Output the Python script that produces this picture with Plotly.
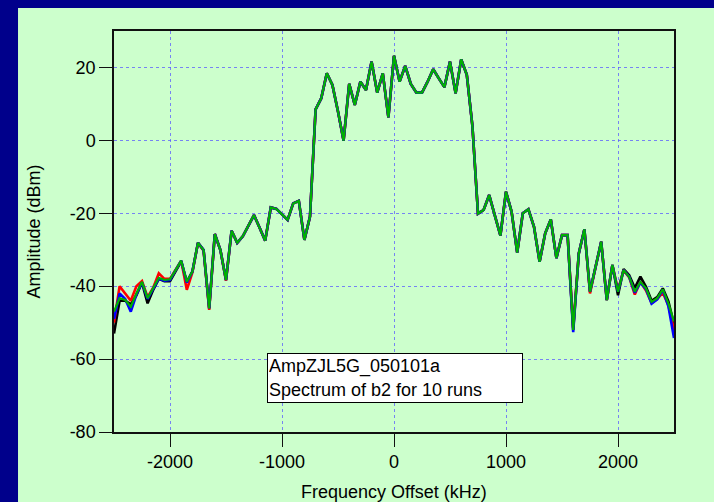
import plotly.graph_objects as go

# Frequency offsets (kHz), 50 kHz spacing
freq_khz = list(range(-2500, 2501, 50))

# Amplitudes (dBm), one list per visible run colour
run_green = [
    -47.0, -43.3, -43.8, -45.6, -42.0, -38.8, -43.3, -40.6, -37.7, -38.3,
    -38.1, -35.6, -33.0, -38.8, -36.0, -28.1, -30.1, -46.1, -25.7, -30.1,
    -38.3, -24.8, -28.1, -26.3, -23.4, -20.5, -24.0, -27.5, -18.4, -18.8,
    -20.3, -21.8, -17.3, -16.6, -27.3, -20.9, 8.5, 11.5, 18.4, 15.2,
    7.9, -0.1, 15.5, 9.7, 16.1, 13.8, 21.6, 13.1, 18.4, 6.3,
    23.2, 16.1, 20.4, 15.5, 13.1, 13.1, 16.1, 19.5, 17.0, 14.6,
    21.6, 12.9, 22.2, 18.0, 4.0, -20.1, -19.1, -15.0, -20.6, -26.1,
    -14.1, -19.6, -30.8, -20.0, -18.9, -23.7, -33.3, -25.5, -21.7, -32.3,
    -26.0, -26.0, -52.0, -31.0, -24.4, -41.5, -34.7, -27.8, -43.8, -34.2,
    -41.5, -35.6, -37.4, -41.5, -38.8, -40.6, -44.3, -43.3, -40.9, -44.7,
    -49.7,
]
run_black = [
    -53.0, -44.0, -44.0, -45.0, -42.5, -39.0, -44.7, -41.0, -38.0, -38.6,
    -38.6, -35.8, -33.2, -38.8, -36.0, -28.1, -30.1, -46.1, -25.7, -30.1,
    -38.3, -24.8, -28.1, -26.3, -23.4, -20.5, -24.0, -27.5, -18.4, -18.8,
    -20.3, -21.8, -17.3, -16.6, -27.3, -20.9, 8.5, 11.5, 18.4, 15.2,
    7.9, -0.1, 15.5, 9.7, 16.1, 13.8, 21.6, 13.1, 18.4, 6.3,
    23.2, 16.1, 20.4, 15.5, 13.1, 13.1, 16.1, 19.5, 17.0, 14.6,
    21.6, 12.9, 22.2, 18.0, 4.0, -20.1, -19.1, -15.0, -20.6, -26.1,
    -14.1, -19.6, -30.8, -20.0, -18.9, -23.7, -33.3, -25.5, -21.7, -32.3,
    -26.0, -26.0, -52.0, -31.0, -24.4, -41.5, -34.7, -27.8, -43.8, -34.2,
    -42.5, -35.3, -37.0, -40.5, -37.4, -40.2, -44.0, -43.0, -40.6, -44.2,
    -50.5,
]
run_red = [
    -50.0, -40.0, -42.0, -44.0, -40.0, -38.6, -43.0, -40.4, -36.5, -38.0,
    -38.0, -35.6, -33.0, -41.0, -36.2, -28.1, -30.3, -46.5, -25.7, -30.1,
    -38.5, -24.8, -28.1, -26.3, -23.4, -20.5, -24.0, -27.5, -18.4, -18.8,
    -20.3, -21.8, -17.3, -16.6, -27.3, -20.9, 8.5, 11.5, 18.4, 15.2,
    7.9, -0.1, 15.5, 9.7, 16.1, 13.8, 21.6, 13.1, 18.4, 6.3,
    23.2, 16.1, 20.4, 15.5, 13.1, 13.1, 16.1, 19.5, 17.0, 14.6,
    21.6, 12.9, 22.2, 18.0, 4.0, -20.1, -19.1, -15.0, -20.6, -26.1,
    -14.1, -19.6, -30.8, -20.0, -18.9, -23.7, -33.3, -25.5, -21.7, -32.3,
    -26.0, -26.0, -51.5, -31.0, -24.4, -42.0, -34.7, -27.8, -43.8, -34.2,
    -41.0, -35.6, -37.6, -42.3, -38.8, -41.2, -44.6, -43.5, -41.8, -45.2,
    -52.0,
]
run_blue = [
    -49.0, -42.0, -43.5, -47.0, -42.3, -39.0, -43.5, -40.8, -37.9, -38.5,
    -38.3, -35.6, -33.0, -39.0, -36.0, -28.1, -30.1, -46.1, -25.7, -30.1,
    -38.3, -24.8, -28.1, -26.3, -23.4, -20.5, -24.0, -27.5, -18.4, -18.8,
    -20.3, -21.8, -17.3, -16.6, -27.3, -20.9, 8.5, 11.5, 18.4, 15.2,
    7.9, -0.1, 15.5, 9.7, 16.1, 13.8, 21.6, 13.1, 18.4, 6.3,
    23.2, 16.1, 20.4, 15.5, 13.1, 13.1, 16.1, 19.5, 17.0, 14.6,
    21.6, 12.9, 22.2, 18.0, 4.0, -20.1, -19.1, -15.0, -20.6, -26.1,
    -14.1, -19.6, -30.8, -20.0, -18.9, -23.7, -33.3, -25.5, -21.7, -32.3,
    -26.0, -26.0, -52.6, -31.0, -24.4, -41.5, -34.7, -27.8, -43.8, -34.2,
    -41.5, -35.6, -37.4, -41.8, -39.0, -40.8, -44.8, -43.6, -41.0, -45.5,
    -54.2,
]

run_names = ["run black", "run red", "run blue", "run green"]
run_values = [run_black, run_red, run_blue, run_green]
run_colors = ["#000000", "#FF0000", "#0000FF", "#00B000"]
run_widths = [2.6, 2.6, 2.6, 2.2]

x_ticks = [-2000, -1000, 0, 1000, 2000]
x_tick_labels = ["-2000", "-1000", "0", "1000", "2000"]
y_ticks = [-80, -60, -40, -20, 0, 20]
y_tick_labels = ["-80", "-60", "-40", "-20", "0", "20"]

note_lines = ["AmpZJL5G_050101a", "Spectrum of b2 for 10 runs"]

FONT = "Arial, Liberation Sans, sans-serif"
GREEN_BG = "#CCFFCC"
NAVY = "#00008B"

fig = go.Figure()
for name, vals, col, w in zip(run_names, run_values, run_colors, run_widths):
    fig.add_trace(go.Scatter(x=freq_khz, y=vals, mode="lines", name=name,
                             line=dict(color=col, width=w), showlegend=False))

axis_common = dict(
    showgrid=True, gridcolor="rgba(90,90,255,0.75)", gridwidth=1, griddash="dot",
    zeroline=False, showline=True, linecolor="#111111", linewidth=1.5, mirror=True,
    ticks="outside", ticklen=13, tickcolor="#111111", tickwidth=1.2,
    tickfont=dict(family=FONT, size=18, color="#000000"),
)

fig.update_xaxes(range=[-2500, 2500], tickvals=x_ticks, ticktext=x_tick_labels,
                 **axis_common)
fig.update_yaxes(range=[-80, 30], tickvals=y_ticks, ticktext=y_tick_labels,
                 **axis_common)

fig.update_layout(
    width=714, height=502,
    margin=dict(l=114, r=40, t=31, b=70),
    paper_bgcolor=NAVY, plot_bgcolor=GREEN_BG,
    showlegend=False,
    shapes=[dict(type="rect", xref="paper", yref="paper",
                 x0=-0.1714, x1=1.08, y0=-0.19, y1=1.0574,
                 fillcolor=GREEN_BG, line=dict(width=0), layer="below")],
    annotations=[
        dict(text="<br>".join(note_lines), xref="paper", yref="paper",
             x=0.2732, y=0.197, xanchor="left", yanchor="top", align="left",
             showarrow=False, bgcolor="#FFFFFF", bordercolor="#000000",
             borderwidth=1, borderpad=1, width=252, height=46,
             font=dict(family=FONT, size=18, color="#000000")),
        dict(text="Frequency Offset (kHz)", xref="paper", yref="paper",
             x=0.5, y=-0.1496, xanchor="center", yanchor="middle",
             showarrow=False, font=dict(family=FONT, size=18, color="#000000")),
        dict(text="Amplitude (dBm)", xref="paper", yref="paper",
             x=-0.1446, y=0.5, xanchor="center", yanchor="middle", textangle=-90,
             showarrow=False, font=dict(family=FONT, size=18, color="#000000")),
    ],
)

fig.write_html("out.html",
               config={"displayModeBar": False},
               post_script="document.body.style.margin='0';"
                           "document.body.style.overflow='hidden';")
